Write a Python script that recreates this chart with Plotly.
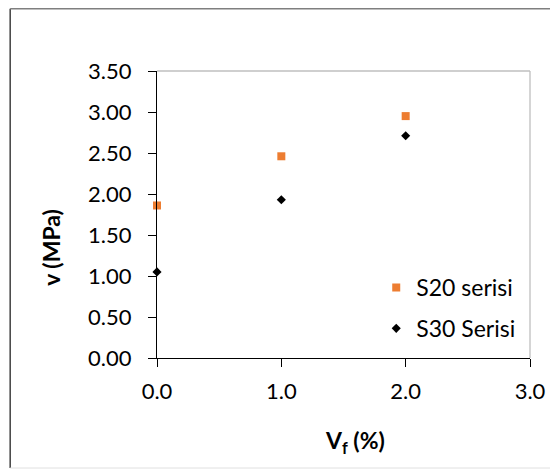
import plotly.graph_objects as go

vf = [0.0, 1.0, 2.0]
s20 = [1.86, 2.46, 2.95]
s30 = [1.05, 1.93, 2.71]
series_names = ["S20 serisi", "S30 Serisi"]
x_ticks = [0.0, 1.0, 2.0, 3.0]
x_ticklabels = ["0.0", "1.0", "2.0", "3.0"]
y_ticks = [0.0, 0.5, 1.0, 1.5, 2.0, 2.5, 3.0, 3.5]
y_ticklabels = ["0.00", "0.50", "1.00", "1.50", "2.00", "2.50", "3.00", "3.50"]

# the page body has an 8px default margin, so the figure is 8px smaller
OFF = 8
W, H = 558 - OFF, 469 - OFF
# plot area in screen pixels: x 157..533, y 71..358
L, R, T, B = 157 - OFF, 25, 71 - OFF, 111
pw, ph = W - L - R, H - T - B

def px(x):
    return (x - OFF - L) / pw

def py(y):
    return (H + OFF - B - y) / ph

FONT = "Lato"

fig = go.Figure()
fig.add_trace(go.Scatter(x=vf, y=s20, mode="markers", name=series_names[0],
                         legendgroup="a",
                         marker=dict(symbol="square", size=8, color="#ED7D31"),
                         cliponaxis=False))
fig.add_trace(go.Scatter(x=vf, y=s30, mode="markers", name=series_names[1],
                         legendgroup="b",
                         marker=dict(symbol="diamond", size=7, color="#000000"),
                         cliponaxis=False))

fig.update_layout(
    width=W, height=H,
    margin=dict(l=L, r=R, t=T, b=B, pad=0),
    paper_bgcolor="white", plot_bgcolor="white",
    font=dict(family=FONT, size=22, color="#000000"),
    showlegend=True,
    legend=dict(x=px(378), y=py(266), xanchor="left", yanchor="top",
                bgcolor="rgba(0,0,0,0)", traceorder="grouped",
                tracegroupgap=8, font=dict(size=23, family=FONT)),
    xaxis=dict(range=[0, 3], tickvals=x_ticks, ticktext=x_ticklabels,
               showgrid=False, zeroline=False, showline=True,
               linecolor="#000000", linewidth=1.3, ticks="outside",
               ticklen=8, tickcolor="#000000", tickwidth=1.3,
               tickfont=dict(size=22, family=FONT), ticklabelstandoff=5),
    yaxis=dict(range=[0, 3.5], tickvals=y_ticks, ticktext=y_ticklabels,
               showgrid=False, zeroline=False, showline=True,
               linecolor="#000000", linewidth=1.3, ticks="outside",
               ticklen=8, tickcolor="#000000", tickwidth=1.3,
               tickfont=dict(size=22, family=FONT), ticklabelstandoff=12),
    annotations=[
        dict(text="<b>v (MPa)</b>", x=px(50), y=py(247), xref="paper", yref="paper",
             textangle=-90, showarrow=False, font=dict(size=23, family=FONT),
             xanchor="center", yanchor="middle"),
        dict(text="<b>V<sub>f</sub> (%)</b>", x=px(357), y=py(441), xref="paper", yref="paper",
             showarrow=False, font=dict(size=23, family=FONT),
             xanchor="center", yanchor="middle"),
    ],
    shapes=[
        # plot-area border (top and right)
        dict(type="line", xref="paper", yref="paper", x0=0, x1=1, y0=1, y1=1,
             line=dict(color="#BFBFBF", width=1.3), layer="below"),
        dict(type="line", xref="paper", yref="paper", x0=1, x1=1, y0=0, y1=1,
             line=dict(color="#BFBFBF", width=1.3), layer="below"),
        # outer chart frame
        dict(type="line", xref="paper", yref="paper", x0=px(9), x1=px(9), y0=py(468), y1=py(8.7),
             line=dict(color="#404040", width=1.5)),
        dict(type="line", xref="paper", yref="paper", x0=px(9), x1=px(570), y0=py(8.7), y1=py(8.7),
             line=dict(color="#7F7F7F", width=1.5)),
        dict(type="line", xref="paper", yref="paper", x0=px(9), x1=px(570), y0=py(468), y1=py(468),
             line=dict(color="#E0E0E0", width=1)),
    ],
)

fig.write_html("out.html")
